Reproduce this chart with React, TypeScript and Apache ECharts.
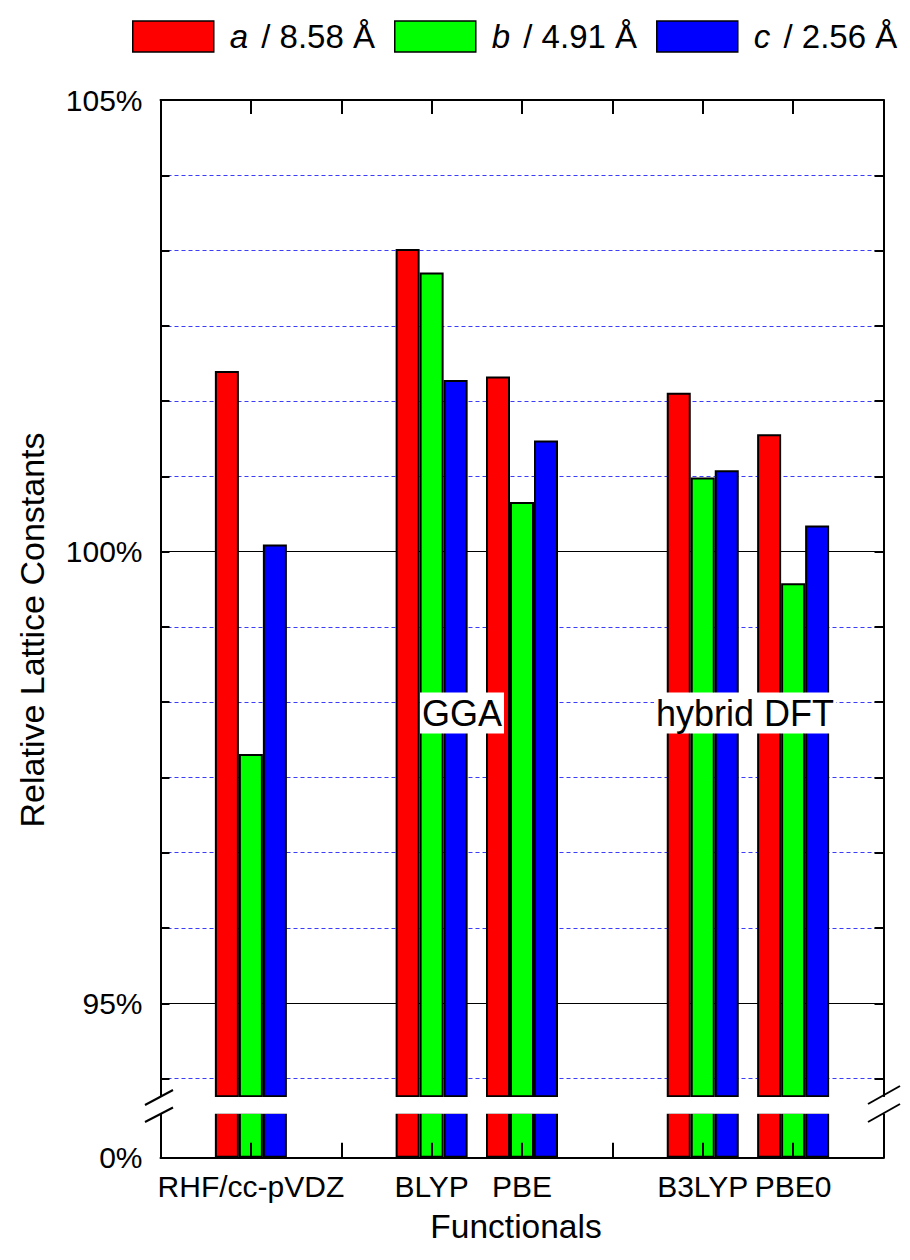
import React, { useEffect, useRef } from 'react';
import * as echarts from 'echarts';

// Category slots (empty strings are spacer positions on the axis)
const CATEGORIES = ['', 'RHF/cc-pVDZ', '', 'BLYP', 'PBE', '', 'B3LYP', 'PBE0', ''];

// Relative lattice constants in %
const A_VALUES = [null, 102.0, null, 103.35, 101.94, null, 101.76, 101.3, null];
const B_VALUES = [null, 97.76, null, 103.09, 100.55, null, 100.82, 99.65, null];
const C_VALUES = [null, 100.08, null, 101.9, 101.23, null, 100.9, 100.29, null];

const SERIES_NAMES = ['a', 'b', 'c'];
const LATTICE = ['8.58', '4.91', '2.56'];
const COLORS = ['#ff0000', '#00ff00', '#0000ff'];

// Axis ticks / labels
const UPPER_TICKS = [94.1667, 95, 95.8333, 96.6667, 97.5, 98.3333, 99.1667, 100, 100.8333, 101.6667, 102.5, 103.3333, 104.1667, 105];
const UPPER_LABELS = [95, 100, 105];
const SOLID_LINES = [95, 100];
const LOWER_LABELS = [0];

const FONT = 'Liberation Sans, Arial, sans-serif';

export default function App() {
  const ref = useRef<HTMLDivElement>(null);
  useEffect(() => {
    document.body.style.margin = '0';
    const chart = echarts.init(ref.current!, null, { renderer: 'svg' });
    const values = [A_VALUES, B_VALUES, C_VALUES];
    const series: any[] = [];
    [0, 1].forEach((part) => {
      SERIES_NAMES.forEach((name, i) => {
        series.push({
          type: 'bar',
          name,
          xAxisIndex: part,
          yAxisIndex: part === 0 ? 0 : 3,
          data: values[i],
          barWidth: 24,
          barGap: '0%',
          clip: true,
          silent: true,
          itemStyle: { color: COLORS[i], borderColor: '#000', borderWidth: 2 },
        });
      });
    });
    const axisLine = { show: true, lineStyle: { color: '#000', width: 2 } };
    const gridLeft = 160.5;
    const gridWidth = 723;
    const option: any = {
      animation: false,
      textStyle: { fontFamily: FONT, color: '#000' },
      legend: {
        data: SERIES_NAMES,
        left: 132,
        top: 20,
        padding: 0,
        itemWidth: 81,
        itemHeight: 31,
        itemGap: 19,
        icon: 'rect',
        selectedMode: false,
        itemStyle: { borderColor: '#000', borderWidth: 1.5 },
        formatter: (name: string) => {
          const idx = SERIES_NAMES.indexOf(name);
          return `{i|${name}}{t| / ${LATTICE[idx]} Å}`;
        },
        textStyle: {
          fontSize: 33,
          color: '#000',
          rich: {
            i: { fontStyle: 'italic', fontSize: 33, fontFamily: FONT, padding: [0, 0, 0, 11] },
            t: { fontSize: 33, fontFamily: FONT, padding: [0, 0, 0, 4] },
          },
        },
      },
      grid: [
        { left: gridLeft, width: gridWidth, top: 100, height: 996.3 },
        { left: gridLeft, width: gridWidth, top: 1112.7, height: 45 },
      ],
      xAxis: [
        {
          type: 'category',
          gridIndex: 0,
          position: 'top',
          data: CATEGORIES,
          boundaryGap: false,
          axisLine: { ...axisLine, onZero: false },
          axisTick: { show: true, inside: true, length: 14, interval: 0, lineStyle: { color: '#000', width: 2 } },
          axisLabel: { show: false },
          splitLine: { show: false },
        },
        {
          type: 'category',
          gridIndex: 1,
          position: 'bottom',
          data: CATEGORIES,
          boundaryGap: false,
          z: 3,
          axisLine: { ...axisLine, onZero: false },
          axisTick: { show: true, inside: true, length: 15, interval: 0, lineStyle: { color: '#000', width: 2 } },
          axisLabel: { show: true, interval: 0, fontSize: 30, color: '#000', margin: 14, fontFamily: FONT },
          splitLine: { show: false },
          name: 'Functionals',
          nameLocation: 'middle',
          nameGap: 52,
          nameTextStyle: { fontSize: 33.5, color: '#000', fontFamily: FONT, padding: [0, 12, 0, 0] },
        },
      ],
      yAxis: [
        {
          type: 'value',
          gridIndex: 0,
          position: 'left',
          min: 93.97,
          max: 105,
          axisLine: axisLine,
          axisTick: { show: true, inside: true, length: 9, customValues: UPPER_TICKS, lineStyle: { color: '#000', width: 2 } },
          axisLabel: { show: true, customValues: UPPER_LABELS, formatter: '{value}%', fontSize: 30, color: '#000', margin: 18, fontFamily: FONT },
          splitLine: { show: true, lineStyle: { color: '#3c3cff', width: 1, type: [4, 3] } },
        },
        {
          type: 'value',
          gridIndex: 0,
          position: 'right',
          min: 93.97,
          max: 105,
          axisLine: axisLine,
          axisTick: { show: true, inside: true, length: 9, customValues: UPPER_TICKS, lineStyle: { color: '#000', width: 2 } },
          axisLabel: { show: false },
          splitLine: { show: false },
        },
        {
          type: 'value',
          gridIndex: 0,
          position: 'left',
          min: 93.97,
          max: 105,
          axisLine: { show: false },
          axisTick: { show: false, customValues: SOLID_LINES },
          axisLabel: { show: false },
          splitLine: { show: true, lineStyle: { color: '#000', width: 1, type: 'solid' } },
        },
        {
          type: 'value',
          gridIndex: 1,
          position: 'left',
          min: 0,
          max: 10,
          axisLine: axisLine,
          axisTick: { show: false, customValues: LOWER_LABELS },
          axisLabel: { show: true, customValues: LOWER_LABELS, formatter: '{value}%', fontSize: 30, color: '#000', margin: 18, fontFamily: FONT },
          splitLine: { show: false },
        },
        {
          type: 'value',
          gridIndex: 1,
          position: 'right',
          min: 0,
          max: 10,
          axisLine: axisLine,
          axisTick: { show: false },
          axisLabel: { show: false },
          splitLine: { show: false },
        },
      ],
      series,
      graphic: [
        // axis break gap
        { type: 'rect', z: 100, shape: { x: 145, y: 1097, width: 760, height: 16.8 }, style: { fill: '#fff' } },
        { type: 'line', z: 101, shape: { x1: 145, y1: 1105, x2: 173, y2: 1090 }, style: { stroke: '#000', lineWidth: 2 } },
        { type: 'line', z: 101, shape: { x1: 145, y1: 1122, x2: 173, y2: 1107.5 }, style: { stroke: '#000', lineWidth: 2 } },
        { type: 'line', z: 101, shape: { x1: 868, y1: 1104, x2: 900, y2: 1086 }, style: { stroke: '#000', lineWidth: 2 } },
        { type: 'line', z: 101, shape: { x1: 868, y1: 1122, x2: 900, y2: 1104 }, style: { stroke: '#000', lineWidth: 2 } },
        // annotations
        {
          type: 'text', z: 100, x: 462, y: 713,
          style: { text: 'GGA', font: `36px ${FONT}`, fill: '#000', align: 'center', verticalAlign: 'middle', backgroundColor: '#fff', padding: [3, 2, 2, 2] },
        },
        {
          type: 'text', z: 100, x: 745, y: 713,
          style: { text: 'hybrid DFT', font: `36px ${FONT}`, fill: '#000', align: 'center', verticalAlign: 'middle', backgroundColor: '#fff', padding: [3, 2, 2, 2] },
        },
        {
          type: 'text', z: 100, x: 32, y: 630, rotation: Math.PI / 2,
          style: { text: 'Relative Lattice Constants', font: `34px ${FONT}`, fill: '#000', align: 'center', verticalAlign: 'middle' },
        },
      ],
    };
    chart.setOption(option);
    return () => chart.dispose();
  }, []);
  return <div ref={ref} style={{ width: 910, height: 1260 }} />;
}
